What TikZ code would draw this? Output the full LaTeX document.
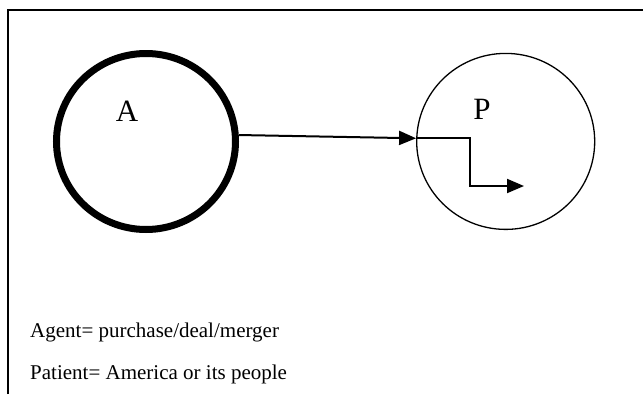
\documentclass[tikz,border=0pt]{standalone}
\usepackage{fontspec}
\setmainfont{Liberation Serif}
\usetikzlibrary{shapes.geometric,arrows.meta}
\begin{document}
\begin{tikzpicture}[x=1pt,y=-1pt,
  ent/.style={ellipse,draw,inner sep=0pt,minimum width=179pt,minimum height=176pt},
  lbl/.style={anchor=base,inner sep=0pt,font=\fontsize{31}{31}\selectfont},
  legend/.style={anchor=base west,inner sep=0pt,font=\fontsize{21}{21}\selectfont},
  conn/.style={line width=2pt,-{Triangle[length=17pt,width=14pt]}}]
\useasboundingbox (0,0) rectangle (643,394);
\draw[line width=2pt] (8,394) -- (8,10) -- (643,10);
\node[ent,line width=7pt] (A) at (146,141.5) {};
\node[ent,line width=1.3pt,minimum width=178pt] (P) at (505.7,141.4) {};
\node[lbl] (la) at (127,121.5) {A};
\node[lbl] (lp) at (482,119.3) {P};
\draw[conn] (A.4) -- (P.178);
\coordinate (pend) at (524,186);
\draw[conn] (P.178) -- ++(54,0) |- (pend);
\node[legend] (t1) at (30,337) {Agent= purchase/deal/merger};
\node[legend] (t2) at (30,379) {Patient= America or its people};
\end{tikzpicture}
\end{document}
